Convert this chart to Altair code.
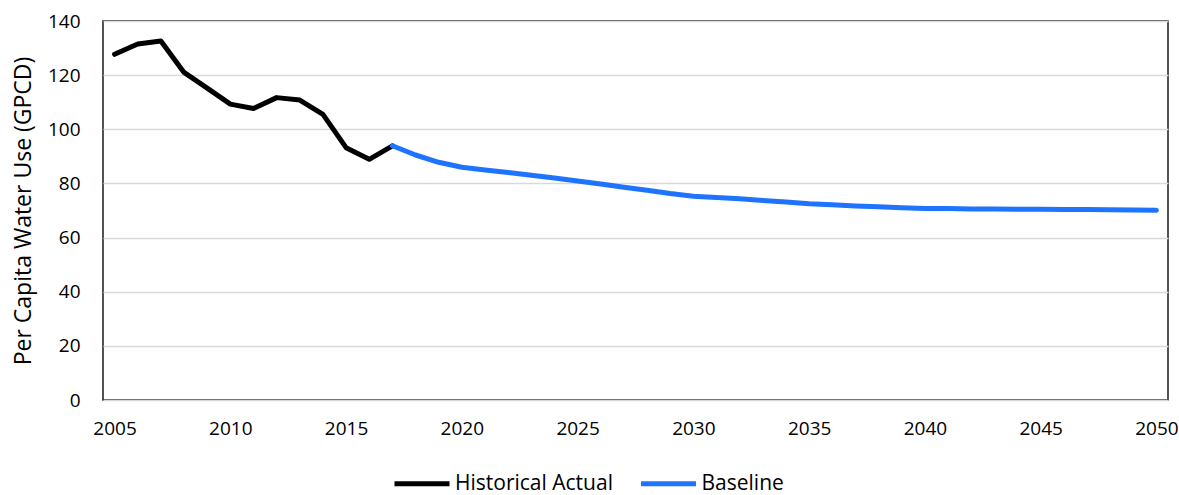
import altair as alt
import pandas as pd

# Per-capita water use, gallons per capita per day
hist_years = list(range(2005, 2018))
hist_gpcd = [127.7, 131.5, 132.6, 121.0, 115.2, 109.3, 107.7, 111.7, 110.8, 105.5, 93.2, 88.9, 93.9]

base_years = list(range(2017, 2051))
base_gpcd = [93.9, 90.5, 87.8, 86.0, 85.0, 84.0, 83.0, 82.0, 80.9, 79.8,
             78.6, 77.5, 76.3, 75.3, 74.8, 74.3, 73.7, 73.1, 72.5, 72.1,
             71.7, 71.4, 71.0, 70.7, 70.7, 70.6, 70.6, 70.5, 70.5, 70.4,
             70.4, 70.3, 70.2, 70.1]

series_names = ["Historical Actual", "Baseline"]
series_colors = ["#000000", "#1f74ff"]
x_ticks = list(range(2005, 2051, 5))
y_ticks = list(range(0, 141, 20))

df = pd.concat([
    pd.DataFrame({"year": hist_years, "gpcd": hist_gpcd, "series": series_names[0]}),
    pd.DataFrame({"year": base_years, "gpcd": base_gpcd, "series": series_names[1]}),
])

FONT = "Open Sans"

# Long horizontal legend swatch on a compact row: the path spans 2.5x the symbol box
LEGEND_LINE = "M-2.5,0H2.5"

chart = alt.Chart(df).mark_line(strokeWidth=5, strokeJoin="round", strokeCap="round").encode(
    x=alt.X("year:Q",
            scale=alt.Scale(domain=[2004.5, 2050.5], nice=False, zero=False),
            axis=alt.Axis(values=x_ticks, format="d", title=None, grid=False,
                          ticks=False, domain=False, labelPadding=19,
                          labelFontSize=19, labelColor="#000000", labelFont=FONT)),
    y=alt.Y("gpcd:Q",
            scale=alt.Scale(domain=[0, 140], nice=False),
            axis=alt.Axis(values=y_ticks, title="Per Capita Water Use (GPCD)",
                          grid=True, gridColor="#d9d9d9", gridWidth=1.5,
                          ticks=False, domain=False, labelPadding=23,
                          labelFontSize=19, labelColor="#000000", labelFont=FONT,
                          titleFontSize=23, titleFontWeight="normal", titleColor="#000000",
                          titleFont=FONT, titlePadding=12)),
    color=alt.Color("series:N",
                    scale=alt.Scale(domain=series_names, range=series_colors),
                    legend=alt.Legend(title=None, orient="none", direction="horizontal",
                                      legendX=305.5, legendY=449,
                                      symbolType=LEGEND_LINE, symbolSize=484,
                                      symbolStrokeWidth=5, labelOffset=19.5,
                                      columnPadding=17.5, labelFontSize=21,
                                      labelLimit=0,
                                      labelColor="#000000", labelFont=FONT)),
    order=alt.Order("year:Q"),
).properties(
    width=1065,
    height=379,
    background="#ffffff",
    autosize=alt.AutoSizeParams(type="none"),
    padding={"left": 103, "top": 21, "right": 11, "bottom": 95},
).configure_view(
    stroke="#1a1a1a", strokeWidth=1.5
)

chart.save("out.html", embed_options={"renderer": "svg", "actions": False})
